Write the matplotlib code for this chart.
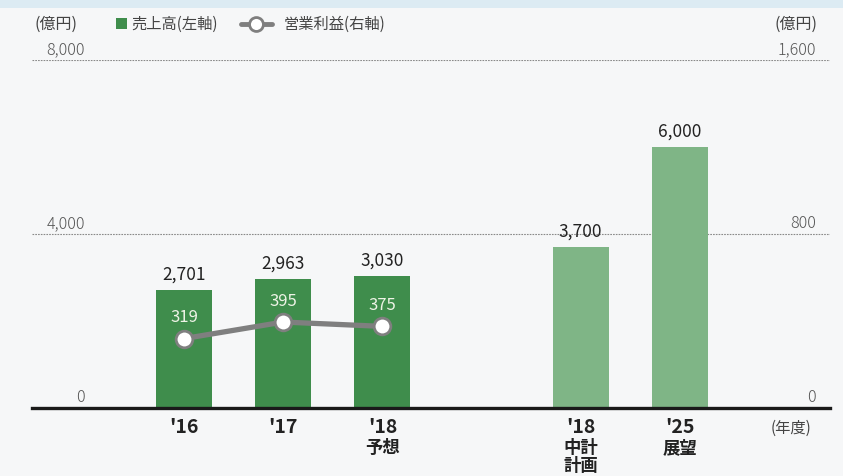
import matplotlib.pyplot as plt
from matplotlib.patches import Rectangle
from matplotlib.lines import Line2D

plt.rcParams['font.family'] = ['Noto Sans CJK JP', 'DejaVu Sans']

# 売上高 (億円) と 営業利益 (億円)
years = ["'16", "'17", "'18", "'18", "'25"]
notes = ["", "", "予想", "中計\n計画", "展望"]
sales = [2701, 2963, 3030, 3700, 6000]
profit = [319, 395, 375]
positions = [0, 1, 2, 4, 5]

dark_green = '#3f8d4c'
light_green = '#7fb586'
bar_colors = [dark_green, dark_green, dark_green, light_green, light_green]
bg = '#f6f7f8'
tick_c = '#555555'
head_c = '#444444'

fig = plt.figure(figsize=(8.43, 4.76), dpi=100, facecolor=bg)
# thin tinted strip at the top edge
fig.patches.append(Rectangle((0, 0.983), 1, 0.017, transform=fig.transFigure,
                             facecolor='#dcebf3', edgecolor='none'))

ax = fig.add_axes([0.038, 0.143, 0.947, 0.731])
ax.set_facecolor(bg)
ax.set_xlim(-1.535, 6.52)
ax.set_ylim(0, 8000)

# gridlines under the bars
for v in (4000, 8000):
    ax.axhline(v, color='#8a8a8a', lw=0.8, ls=(0, (1.5, 1)), zorder=1)

ax.bar(positions, sales, width=0.565, color=bar_colors, zorder=2)
ax.axhline(0, color='#1a1a1a', lw=2.4, zorder=5, clip_on=False)

for x, v in zip(positions, sales):
    ax.text(x, v + 150, f'{v:,}', ha='center', va='bottom', fontsize=12.5, color='#222222')

for spine in ax.spines.values():
    spine.set_visible(False)
ax.set_xticks([])
ax.set_yticks([])

# left axis values
for v in (0, 4000, 8000):
    ax.text(-1.0, v + 40, f'{v:,}', ha='right', va='bottom',
            fontsize=11.5, color=tick_c, fontweight='light')

# category labels below the axis
for x, yr, nt in zip(positions, years, notes):
    ax.text(x, -230, yr, ha='center', va='top', fontsize=14, fontweight='bold', color='#222222')
    if nt:
        ax.text(x, -720, nt, ha='center', va='top', fontsize=12.5, fontweight='bold',
                color='#222222', linespacing=1.0)
ax.text(6.12, -280, '(年度)', ha='center', va='top', fontsize=11, color=head_c)

# operating profit on the right axis
ax2 = ax.twinx()
ax2.set_ylim(0, 1600)
for spine in ax2.spines.values():
    spine.set_visible(False)
ax2.set_yticks([])
ax2.plot(positions[:3], profit, color='#7f7f7f', lw=3.8, marker='o', ms=12,
         markerfacecolor='white', markeredgecolor='#7f7f7f', markeredgewidth=2, zorder=6)
for x, v in zip(positions[:3], profit):
    ax2.annotate(f'{v}', (x, v), xytext=(0, 9), textcoords='offset points',
                 ha='center', va='bottom', fontsize=12, color='#eef3e6')

for v in (0, 800, 1600):
    ax2.text(6.374, v + 8, f'{v:,}', ha='right', va='bottom',
             fontsize=11.5, color=tick_c, fontweight='light')

# header: units and legend
fig.text(35 / 843, 1 - 24 / 476, '(億円)', ha='left', va='center', fontsize=11.5, color=head_c)
fig.text(817 / 843, 1 - 24 / 476, '(億円)', ha='right', va='center', fontsize=11.5, color=head_c)

leg = fig.add_axes([0, 0, 1, 1], facecolor='none')
leg.set_xlim(0, 843)
leg.set_ylim(476, 0)
leg.axis('off')
leg.add_patch(Rectangle((116, 18), 11, 11, facecolor=dark_green, edgecolor='none'))
leg.text(131, 24, '売上高(左軸)', ha='left', va='center', fontsize=11, color=head_c)
leg.add_line(Line2D([241, 272], [24, 24], color='#7f7f7f', lw=3.5, solid_capstyle='round'))
leg.add_line(Line2D([256], [24], marker='o', ms=10, markerfacecolor='white',
                    markeredgecolor='#7f7f7f', markeredgewidth=2))
leg.text(284, 24, '営業利益(右軸)', ha='left', va='center', fontsize=11, color=head_c)

fig.savefig('out.png', dpi=100, facecolor=bg)
